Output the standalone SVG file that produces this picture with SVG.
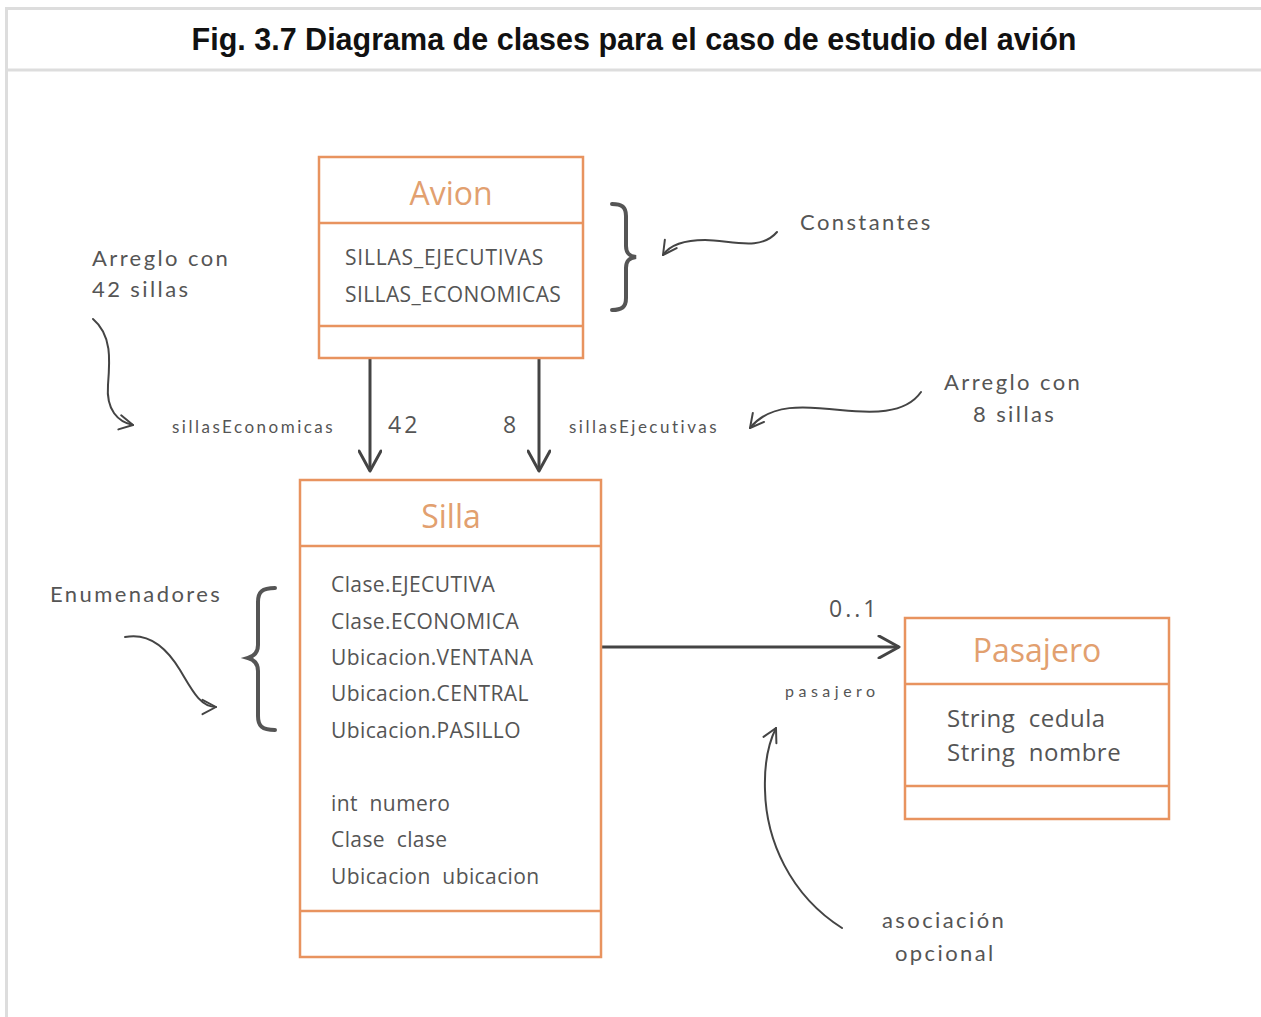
<svg xmlns="http://www.w3.org/2000/svg" width="1261" height="1017" viewBox="0 0 1261 1017">
<style>
.frame{stroke:#dddddd;stroke-width:3;fill:none}
.box{fill:#ffffff;stroke:#e8935f;stroke-width:2.5}
.div{stroke:#e8935f;stroke-width:2.5}
.cname{font-family:"Open Sans","Noto Sans",sans-serif;fill:#e2a06f;font-size:32px;text-anchor:middle}
.attr{font-family:"Open Sans","Noto Sans",sans-serif;fill:#555555;font-size:21px;letter-spacing:0.4px}
.note{font-family:Lato,"DejaVu Sans",sans-serif;fill:#555555;font-size:22px;letter-spacing:2.4px}
.small{font-family:Lato,"DejaVu Sans",sans-serif;fill:#555555;font-size:17px;letter-spacing:2.5px}
.mult{font-family:"Open Sans","Noto Sans",sans-serif;fill:#555555;font-size:23px;letter-spacing:3px}
.conn{stroke:#444444;stroke-width:3;fill:none}
.hand{stroke:#444444;stroke-width:2;fill:none;stroke-linecap:round}
.brace{stroke:#555555;stroke-width:4;fill:none;stroke-linecap:round}
.title{font-family:"Liberation Sans",Arial,sans-serif;font-weight:bold;font-size:30.5px;fill:#111111;text-anchor:middle}
</style>
<defs>
<marker id="arrBig" viewBox="0 0 24 24" refX="22" refY="12" markerWidth="24" markerHeight="24" orient="auto" markerUnits="userSpaceOnUse">
<path d="M2,1 L22,12 L2,23" fill="none" stroke="#444444" stroke-width="3" stroke-linecap="round" stroke-linejoin="round"/>
</marker>
<marker id="arrHand" viewBox="0 0 20 20" refX="18" refY="10" markerWidth="18" markerHeight="18" orient="auto" markerUnits="userSpaceOnUse">
<path d="M3,2 L18,10 L3,18" fill="none" stroke="#444444" stroke-width="2.2" stroke-linecap="round" stroke-linejoin="round"/>
</marker>
</defs>
<rect width="1261" height="1017" fill="#ffffff"/>
<g id="frame">
<path class="frame" d="M6.5,1017 V8.5 H1261"/>
<path class="frame" d="M6.5,70 H1261"/>
<text class="title" x="634" y="50">Fig. 3.7 Diagrama de clases para el caso de estudio del avión</text>
</g>
<g id="connectors">
<line class="conn" x1="370" y1="358" x2="370" y2="471" marker-end="url(#arrBig)"/>
<line class="conn" x1="539" y1="358" x2="539" y2="471" marker-end="url(#arrBig)"/>
<line class="conn" x1="601" y1="647" x2="899" y2="647" marker-end="url(#arrBig)"/>
</g>
<g id="avion">
<rect class="box" x="319" y="157" width="264" height="201"/>
<line class="div" x1="319" y1="223" x2="583" y2="223"/>
<line class="div" x1="319" y1="326" x2="583" y2="326"/>
<text class="cname" x="451" y="205">Avion</text>
<text class="attr" x="345" y="265" style="letter-spacing:0.8px">SILLAS_EJECUTIVAS</text>
<text class="attr" x="345" y="302" style="letter-spacing:0.4px">SILLAS_ECONOMICAS</text>
</g>
<g id="silla">
<rect class="box" x="300" y="480" width="301" height="477"/>
<line class="div" x1="300" y1="546" x2="601" y2="546"/>
<line class="div" x1="300" y1="911" x2="601" y2="911"/>
<text class="cname" x="451" y="528">Silla</text>
<text class="attr" x="331" y="592">Clase.EJECUTIVA</text>
<text class="attr" x="331" y="629">Clase.ECONOMICA</text>
<text class="attr" x="331" y="665">Ubicacion.VENTANA</text>
<text class="attr" x="331" y="701">Ubicacion.CENTRAL</text>
<text class="attr" x="331" y="738">Ubicacion.PASILLO</text>
<text class="attr" x="331" y="811" xml:space="preserve">int  numero</text>
<text class="attr" x="331" y="847" xml:space="preserve">Clase  clase</text>
<text class="attr" x="331" y="884" xml:space="preserve">Ubicacion  ubicacion</text>
</g>
<g id="pasajero">
<rect class="box" x="905" y="618" width="264" height="201"/>
<line class="div" x1="905" y1="684" x2="1169" y2="684"/>
<line class="div" x1="905" y1="786" x2="1169" y2="786"/>
<text class="cname" x="1037" y="662">Pasajero</text>
<text class="attr" x="947" y="727" style="font-size:24px;letter-spacing:0.5px" xml:space="preserve">String  cedula</text>
<text class="attr" x="947" y="761" style="font-size:24px;letter-spacing:0.5px" xml:space="preserve">String  nombre</text>
</g>
<g id="labels">
<text class="small" x="172" y="433">sillasEconomicas</text>
<text class="mult" x="388" y="433">42</text>
<text class="mult" x="503" y="433">8</text>
<text class="small" x="569" y="433">sillasEjecutivas</text>
<text class="mult" x="829" y="617">0..1</text>
<text class="small" x="785" y="697" style="font-size:16px;letter-spacing:4.5px">pasajero</text>
</g>
<g id="annotations">
<text class="note" x="92" y="266">Arreglo con</text>
<text class="note" x="92" y="297">42 sillas</text>
<path class="hand" d="M93,319 C112,335 110,360 108,385 C106,410 118,422 133,425" marker-end="url(#arrHand)"/>
<text class="note" x="800" y="230">Constantes</text>
<path class="hand" d="M777,232 C760,252 730,240 705,240 C685,240 670,245 663,255" marker-end="url(#arrHand)"/>
<path class="brace" d="M612,204 C622,204 626,207 626,216 L626,246 C626,253 629,256 636,257 C629,258 626,261 626,268 L626,298 C626,307 622,310 612,310"/>
<text class="note" x="944" y="390">Arreglo con</text>
<text class="note" x="973" y="422">8 sillas</text>
<path class="hand" d="M921,392 C905,415 870,413 840,410 C805,406 770,403 750,428" marker-end="url(#arrHand)"/>
<text class="note" x="50" y="602">Enumenadores</text>
<path class="hand" d="M125,637 C150,632 168,650 180,670 C192,690 200,707 216,707" marker-end="url(#arrHand)"/>
<path class="brace" d="M275,588 C262,588 258,592 258,602 L258,645 C258,652 255,656 248,658 C255,660 258,664 258,671 L258,716 C258,726 262,730 275,730"/>
<text class="note" x="882" y="928">asociación</text>
<text class="note" x="895" y="961">opcional</text>
<path class="hand" d="M842,928 C790,895 766,840 765,790 C764,760 770,740 776,728" marker-end="url(#arrHand)"/>
</g>
</svg>
